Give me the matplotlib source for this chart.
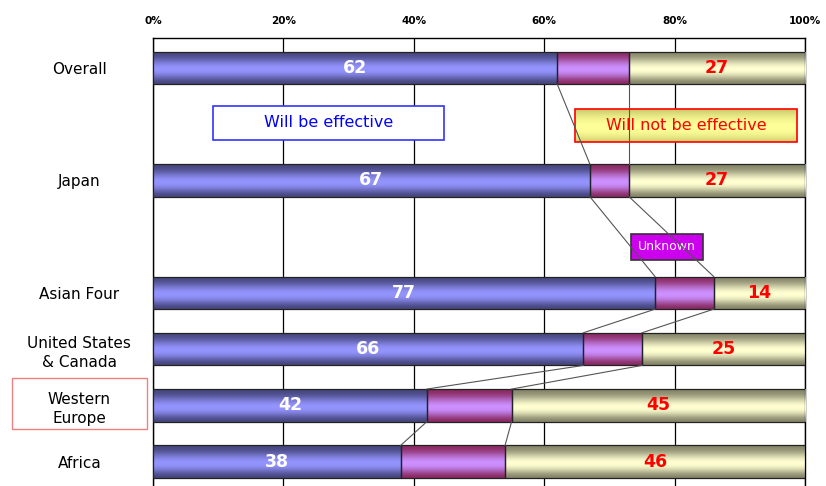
import matplotlib.pyplot as plt
from matplotlib.patches import Rectangle
import numpy as np

# data
categories = ["Overall", "", "Japan", "", "Asian Four",
              "United States\n& Canada", "Western\nEurope", "Africa"]
effective = [62, None, 67, None, 77, 66, 42, 38]
unknown = [11, None, 6, None, 9, 9, 13, 16]
not_effective = [27, None, 27, None, 14, 25, 45, 46]
xticks = [0, 20, 40, 60, 80, 100]
xticklabels = ["0%", "20%", "40%", "60%", "80%", "100%"]

# mid colour, edge colour for the cylinder-like shading
shades = [("#9494ff", "#46467e"),
          ("#cc90ff", "#8a2a64"),
          ("#ffffd2", "#86866a")]

H = 0.58


def shade_img(mid, edge, n=64, p=1.8):
    m = np.array(plt.matplotlib.colors.to_rgb(mid))
    e = np.array(plt.matplotlib.colors.to_rgb(edge))
    t = np.linspace(0, 1, n)
    # light band a bit below the centre, dark at top and bottom
    w = np.clip(np.sin(np.pi * t ** 1.15), 0, 1) ** p
    img = e[None, :] * (1 - w[:, None]) + m[None, :] * w[:, None]
    return img[:, None, :]


fig = plt.figure(figsize=(8.26, 4.86), dpi=100)
ax = fig.add_axes([153 / 826, -6 / 486, 652 / 826, 454 / 486])

ys = [i for i, v in enumerate(effective) if v is not None]

for i in ys:
    left = 0
    for k, vals in enumerate([effective, unknown, not_effective]):
        w = vals[i]
        r = ax.barh(i, w, left=left, height=H, color="none",
                    edgecolor="#222222", linewidth=0.9, zorder=4)[0]
        im = ax.imshow(shade_img(*shades[k]), aspect="auto",
                       extent=(left, left + w, i + H / 2, i - H / 2),
                       zorder=3, interpolation="bilinear")
        im.set_clip_path(r)
        left += w
    ax.text(effective[i] / 2, i, str(effective[i]), color="white",
            fontsize=12.5, fontweight="bold", ha="center", va="center", zorder=6)
    ax.text(100 - not_effective[i] / 2, i, str(not_effective[i]), color="red",
            fontsize=12.5, fontweight="bold", ha="center", va="center", zorder=6)

# series lines
for a, b in zip(ys[:-1], ys[1:]):
    c1a = effective[a]
    c1b = effective[b]
    c2a = effective[a] + unknown[a]
    c2b = effective[b] + unknown[b]
    ax.plot([c1a, c1b], [a + H / 2, b - H / 2], color="#555555", lw=0.8, zorder=7)
    ax.plot([c2a, c2b], [a + H / 2, b - H / 2], color="#555555", lw=0.8, zorder=7)

ax.set_xlim(0, 100)
ax.set_ylim(7.54, -0.53)
ax.set_xticks(xticks)
ax.set_xticklabels(xticklabels, fontsize=7.5, fontweight="bold")
ax.xaxis.tick_top()
ax.tick_params(axis="x", length=0, pad=9)
ax.set_yticks(range(len(categories)))
ax.set_yticklabels(categories, fontsize=11, ha="center", linespacing=1.35)
ax.tick_params(axis="y", length=0, pad=53)
ax.grid(axis="x", color="black", lw=0.9, zorder=0)
ax.set_axisbelow(True)
for s in ax.spines.values():
    s.set_color("black")
    s.set_linewidth(1.0)

# legend-like boxes
ax.add_patch(Rectangle((9.2, 0.67), 35.4, 0.62, facecolor="white",
                       edgecolor="#3333ff", lw=1.2, zorder=5))
ax.text(26.9, 0.98, "Will be effective", color="blue", fontsize=11.5,
        ha="center", va="center", zorder=6)

box = Rectangle((64.7, 0.74), 34.1, 0.57, facecolor="none",
                edgecolor="red", lw=1.2, zorder=6)
ax.add_patch(box)
yim = ax.imshow(shade_img("#ffff99", "#c8c86a", p=0.8), aspect="auto",
                extent=(64.7, 98.8, 1.31, 0.74), zorder=5,
                interpolation="bilinear")
yim.set_clip_path(box)
ax.text(81.8, 1.03, "Will not be effective", color="red", fontsize=11.5,
        ha="center", va="center", zorder=7)

ax.add_patch(Rectangle((73.3, 2.95), 11.1, 0.46, facecolor="#cc00ee",
                       edgecolor="#333333", lw=1.2, zorder=5))
ax.text(78.85, 3.18, "Unknown", color="white", fontsize=9,
        ha="center", va="center", zorder=6)

ax.set_xlim(0, 100)
ax.set_ylim(7.54, -0.53)

fig.patches.append(Rectangle((12 / 826, 57 / 486), 135 / 826, 51 / 486,
                             transform=fig.transFigure, facecolor="none",
                             edgecolor="#f08080", lw=1.0))

fig.savefig("out.png", dpi=100)
